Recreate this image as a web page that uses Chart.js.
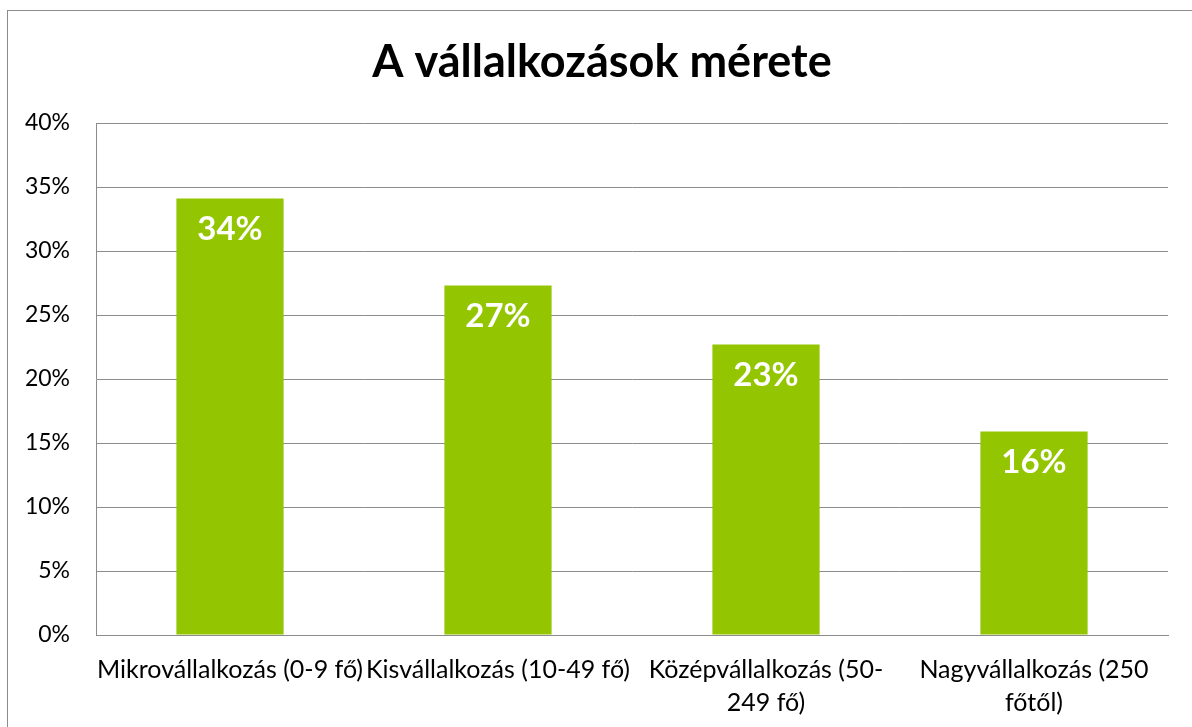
<!DOCTYPE html>
<html>
<head>
<meta charset="utf-8">
<script src="https://cdn.jsdelivr.net/npm/chart.js@4/dist/chart.umd.min.js"></script>
<style>
    html, body { margin: 0; padding: 0; background: #fff; overflow: hidden; }
    #wrap { position: relative; width: 1192px; height: 727px; }
    #frame {
        position: absolute; left: 7px; top: 10px; width: 1300px; height: 900px;
        border: 1px solid #8c8c8c; pointer-events: none;
    }
</style>
</head>
<body>
<div id="wrap">
    <canvas id="sizeChart" width="1192" height="727"></canvas>
    <div id="frame"></div>
</div>
<script>
// Data
const categories = [
    'Mikrovállalkozás (0-9 fő)',
    'Kisvállalkozás (10-49 fő)',
    ['Középvállalkozás (50-', '249 fő)'],
    ['Nagyvállalkozás (250', 'főtől)']
];
const shares = [34.1, 27.3, 22.7, 15.9];
const yTicks = [0, 5, 10, 15, 20, 25, 30, 35, 40];
const chartTitle = 'A vállalkozások mérete';

const FONT = 'Lato, "Open Sans", sans-serif';

// Title centred on the outer frame rather than on the canvas
const frameTitle = {
    id: 'frameTitle',
    afterDraw(chart) {
        const ctx = chart.ctx;
        ctx.save();
        ctx.fillStyle = '#000';
        ctx.font = 'bold 45px ' + FONT;
        ctx.textAlign = 'center';
        ctx.textBaseline = 'middle';
        ctx.fillText(chartTitle, 602, 62);
        ctx.restore();
    }
};

// Value labels drawn inside the top of each bar
const barValueLabels = {
    id: 'barValueLabels',
    afterDatasetsDraw(chart) {
        const ctx = chart.ctx;
        const meta = chart.getDatasetMeta(0);
        ctx.save();
        ctx.fillStyle = '#ffffff';
        ctx.font = 'bold 33px ' + FONT;
        ctx.textAlign = 'center';
        ctx.textBaseline = 'middle';
        meta.data.forEach((bar, i) => {
            ctx.fillText(Math.round(shares[i]) + '%', bar.x, bar.y + 31);
        });
        ctx.restore();
    }
};

new Chart(document.getElementById('sizeChart').getContext('2d'), {
    type: 'bar',
    data: {
        labels: categories,
        datasets: [{
            data: shares,
            backgroundColor: '#93c500',
            borderWidth: 0,
            categoryPercentage: 0.8,
            barPercentage: 0.5
        }]
    },
    options: {
        responsive: false,
        animation: false,
        layout: { padding: { left: 0, right: 24, top: 123, bottom: 0 } },
        plugins: {
            legend: { display: false },
            tooltip: { enabled: false },
            title: { display: false }
        },
        scales: {
            y: {
                min: 0,
                max: 40,
                afterBuildTicks: scale => { scale.ticks = yTicks.map(v => ({ value: v })); },
                afterFit: scale => { scale.width = 96; },
                ticks: {
                    color: '#000',
                    padding: 26,
                    font: { family: FONT, size: 23 },
                    callback: v => v + '%'
                },
                grid: { color: '#8c8c8c', lineWidth: 1, drawTicks: false },
                border: { color: '#8c8c8c', width: 1 }
            },
            x: {
                afterFit: scale => { scale.height = 92; },
                ticks: {
                    color: '#000',
                    padding: 19,
                    maxRotation: 0,
                    autoSkip: false,
                    font: { family: FONT, size: 25, lineHeight: 1.3 }
                },
                grid: { display: false, drawTicks: false },
                border: { color: '#8c8c8c', width: 1 }
            }
        }
    },
    plugins: [barValueLabels, frameTitle]
});
</script>
</body>
</html>
